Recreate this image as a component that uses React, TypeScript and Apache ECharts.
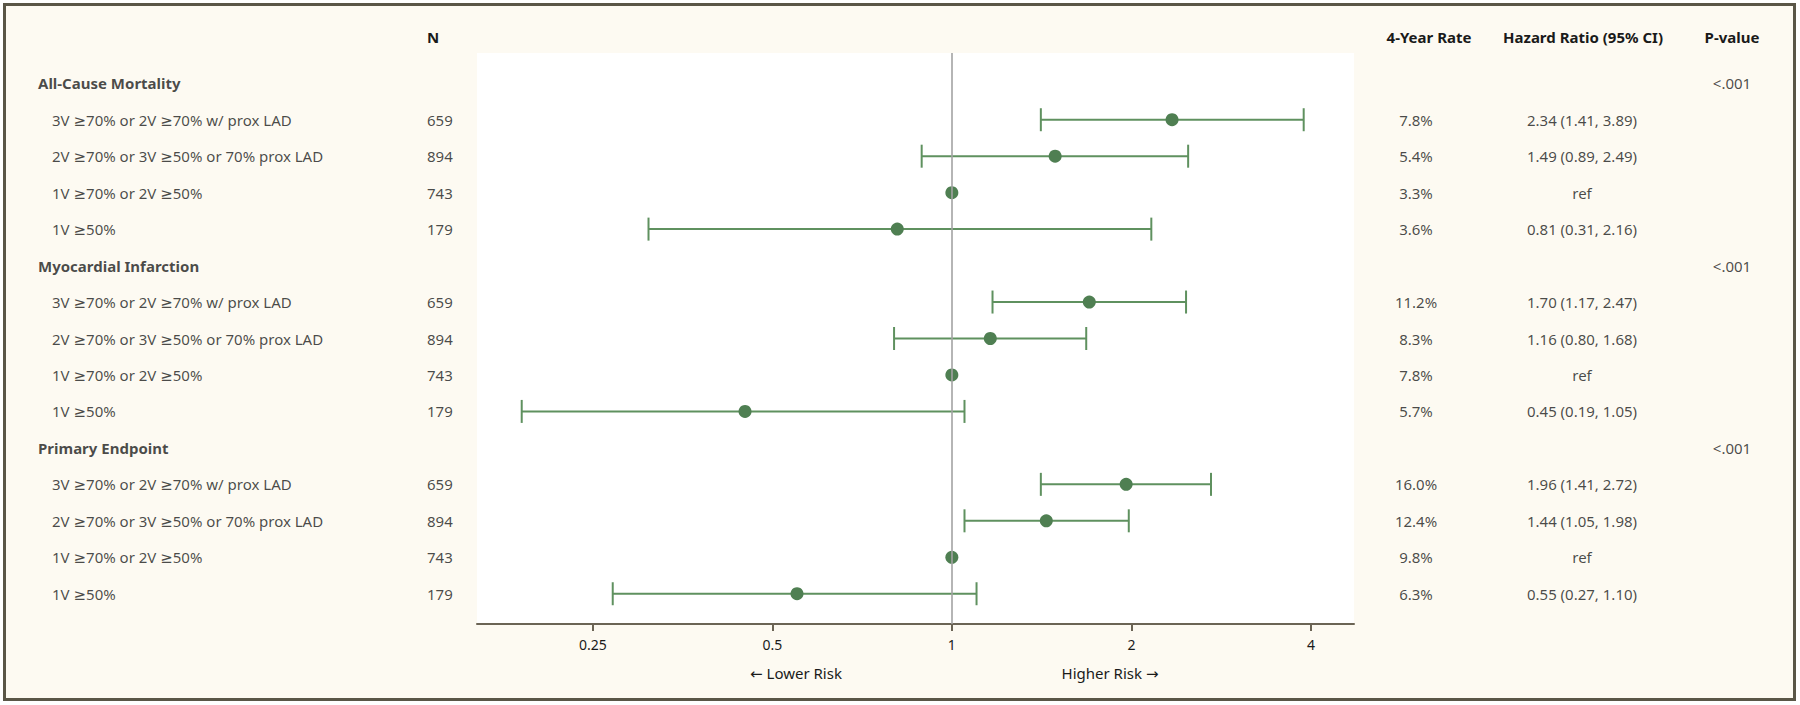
import React, { useEffect, useRef } from "react";
import * as echarts from "echarts";

// ---------- data ----------
const groups = ["All-Cause Mortality", "Myocardial Infarction", "Primary Endpoint"];
const subgroups = [
  "3V ≥70% or 2V ≥70% w/ prox LAD",
  "2V ≥70% or 3V ≥50% or 70% prox LAD",
  "1V ≥70% or 2V ≥50%",
  "1V ≥50%",
];
const nValues = [659, 894, 743, 179];
const pValues = ["<.001", "<.001", "<.001"];
const rates = [
  [7.8, 5.4, 3.3, 3.6],
  [11.2, 8.3, 7.8, 5.7],
  [16.0, 12.4, 9.8, 6.3],
];
const hrEst = [
  [2.34, 1.49, 1, 0.81],
  [1.7, 1.16, 1, 0.45],
  [1.96, 1.44, 1, 0.55],
];
const hrLower: (number | null)[][] = [
  [1.41, 0.89, null, 0.31],
  [1.17, 0.8, null, 0.19],
  [1.41, 1.05, null, 0.27],
];
const hrUpper: (number | null)[][] = [
  [3.89, 2.49, null, 2.16],
  [2.47, 1.68, null, 1.05],
  [2.72, 1.98, null, 1.1],
];
const xTicks = [0.25, 0.5, 1, 2, 4];
const headers = ["N", "4-Year Rate", "Hazard Ratio (95% CI)", "P-value"];
const directionLabels = ["← Lower Risk", "Higher Risk →"];

// ---------- style ----------
const FONT = "'Noto Sans', 'DejaVu Sans', sans-serif";
const TEXT = "#1a1a1a";
const GREEN_LINE = "#5f915f";
const GREEN_DOT = "#4f7f52";
const AXIS = "#6b6455";
const FS = 15;

export default function App() {
  const ref = useRef<HTMLDivElement>(null);

  useEffect(() => {
    if (!ref.current) return;
    const chart = echarts.init(ref.current, null, { renderer: "svg" });

    const rowsPerGroup = subgroups.length + 1;
    const groupRows: any[] = [];
    const subRows: any[] = [];
    const nRows: any[] = [];
    const rateRows: any[] = [];
    const hrRows: any[] = [];
    const pRows: any[] = [];
    const markers: any[] = [];
    const bars: any[] = [];

    groups.forEach((g, gi) => {
      const hRow = gi * rowsPerGroup;
      groupRows.push([38, hRow, g]);
      pRows.push([1732, hRow, pValues[gi]]);
      subgroups.forEach((s, si) => {
        const r = hRow + 1 + si;
        subRows.push([52, r, s]);
        nRows.push([427, r, String(nValues[si])]);
        rateRows.push([1416, r, rates[gi][si].toFixed(1) + "%"]);
        const lo = hrLower[gi][si];
        const hi = hrUpper[gi][si];
        const est = hrEst[gi][si];
        hrRows.push([
          1582,
          r,
          lo == null || hi == null
            ? "ref"
            : `${est.toFixed(2)} (${lo.toFixed(2)}, ${hi.toFixed(2)})`,
        ]);
        markers.push([Math.log2(est), r]);
        if (lo != null && hi != null) bars.push([Math.log2(lo), Math.log2(hi), r]);
      });
    });

    const totalRows = groups.length * rowsPerGroup;
    const yMin = -0.83;
    const yMax = totalRows - 1 + 0.83;

    const textSeries = (data: any[], align: string, bold = false) => ({
      type: "scatter",
      xAxisIndex: 1,
      yAxisIndex: 1,
      data,
      symbolSize: 0,
      silent: true,
      z: 5,
      label: {
        show: true,
        position: "inside",
        align,
        verticalAlign: "middle",
        formatter: (p: any) => p.data[2],
        color: TEXT,
        fontFamily: FONT,
        fontSize: FS,
        fontWeight: bold ? "bold" : "normal",
      },
    });

    const yAxisBase = {
      type: "value",
      inverse: true,
      min: yMin,
      max: yMax,
      show: false,
    };

    chart.setOption({
      animation: false,
      backgroundColor: "transparent",
      textStyle: { fontFamily: FONT },
      grid: [
        {
          left: 477,
          right: 1800 - 1354,
          top: 53,
          bottom: 705 - 624,
          show: true,
          backgroundColor: "#ffffff",
          borderWidth: 0,
        },
        { left: 0, right: 0, top: 53, bottom: 705 - 624, show: false },
      ],
      xAxis: [
        {
          type: "value",
          gridIndex: 0,
          min: -2.645,
          max: 2.24,
          splitLine: { show: false },
          axisLine: { show: true, onZero: false, lineStyle: { color: AXIS, width: 2 } },
          axisTick: {
            show: true,
            length: 7,
            customValues: xTicks.map((t) => Math.log2(t)),
            lineStyle: { color: AXIS, width: 2 },
          },
          axisLabel: {
            customValues: xTicks.map((t) => Math.log2(t)),
            formatter: (v: number) => String(Math.round(Math.pow(2, v) * 1000) / 1000),
            color: TEXT,
            fontFamily: FONT,
            fontSize: 14,
            margin: 13,
          },
        },
        { type: "value", gridIndex: 1, min: 0, max: 1800, show: false },
      ],
      yAxis: [
        { ...yAxisBase, gridIndex: 0 },
        { ...yAxisBase, gridIndex: 1 },
      ],
      series: [
        {
          type: "custom",
          xAxisIndex: 0,
          yAxisIndex: 0,
          data: bars,
          encode: { x: [0, 1], y: 2 },
          z: 2,
          silent: true,
          renderItem: (params: any, api: any) => {
            const lo = api.coord([api.value(0), api.value(2)]);
            const hi = api.coord([api.value(1), api.value(2)]);
            const h = 11.5;
            const style = { stroke: GREEN_LINE, lineWidth: 2, fill: "none" };
            return {
              type: "group",
              children: [
                { type: "line", shape: { x1: lo[0], y1: lo[1], x2: hi[0], y2: hi[1] }, style },
                { type: "line", shape: { x1: lo[0], y1: lo[1] - h, x2: lo[0], y2: lo[1] + h }, style },
                { type: "line", shape: { x1: hi[0], y1: hi[1] - h, x2: hi[0], y2: hi[1] + h }, style },
              ],
            };
          },
          markLine: {
            silent: true,
            symbol: "none",
            label: { show: false },
            lineStyle: { color: "#a3a3a3", width: 1.6, type: "solid" },
            data: [{ xAxis: 0 }],
          },
        },
        {
          type: "scatter",
          xAxisIndex: 0,
          yAxisIndex: 0,
          data: markers,
          symbol: "circle",
          symbolSize: 13,
          z: 4,
          itemStyle: { color: GREEN_DOT, opacity: 1 },
        },
        textSeries(groupRows, "left", true),
        textSeries(subRows, "left"),
        textSeries(nRows, "left"),
        textSeries(rateRows, "center"),
        textSeries(hrRows, "center"),
        textSeries(pRows, "center"),
      ],
      graphic: [
        ...[
          { x: 427, align: "left" },
          { x: 1429, align: "center" },
          { x: 1583, align: "center" },
          { x: 1732, align: "center" },
        ].map((c, i) => ({
          type: "text",
          x: c.x,
          y: 37,
          silent: true,
          style: {
            text: headers[i],
            fill: TEXT,
            font: `bold ${FS}px ${FONT}`,
            textAlign: c.align,
            textVerticalAlign: "middle",
          },
        })),
        ...[796, 1110].map((x, i) => ({
          type: "text",
          x,
          y: 673,
          silent: true,
          style: {
            text: directionLabels[i],
            fill: TEXT,
            font: `${FS}px ${FONT}`,
            textAlign: "center",
            textVerticalAlign: "middle",
          },
        })),
      ],
    });

    return () => chart.dispose();
  }, []);

  return (
    <div style={{ position: "fixed", left: 0, top: 0, width: 1800, height: 705, background: "#ffffff" }}>
      <div
        style={{
          position: "absolute",
          left: 3,
          top: 3,
          width: 1793,
          height: 698,
          boxSizing: "border-box",
          border: "3px solid #5a5647",
          background: "#fdfaf2",
        }}
      />
      <div ref={ref} style={{ position: "absolute", left: 0, top: 0, width: 1800, height: 705 }} />
    </div>
  );
}
